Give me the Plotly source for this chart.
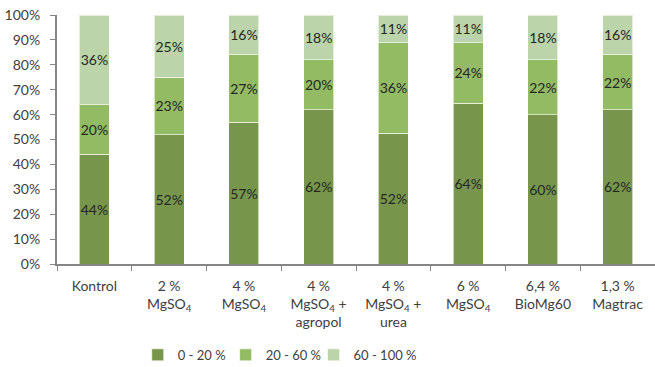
import plotly.graph_objects as go

categories = [
    "Kontrol",
    "2 %<br>MgSO<sub>4</sub>",
    "4 %<br>MgSO<sub>4</sub>",
    "4 %<br>MgSO<sub>4</sub> +<br>agropol",
    "4 %<br>MgSO<sub>4</sub> +<br>urea",
    "6 %<br>MgSO<sub>4</sub>",
    "6,4 %<br>BioMg60",
    "1,3 %<br>Magtrac",
]
share_0_20 = [44, 52, 57, 62, 52, 64, 60, 62]
share_20_60 = [20, 23, 27, 20, 36, 24, 22, 22]
share_60_100 = [36, 25, 16, 18, 11, 11, 18, 16]

series = [
    ("0 - 20 %", share_0_20, "#77964b"),
    ("20 - 60 %", share_20_60, "#93bb63"),
    ("60 - 100 %", share_60_100, "#bcd4a9"),
]

font_family = "Lato, 'Open Sans', sans-serif"

# one legend box per class, spaced evenly under the plot
legend_ids = ["legend", "legend2", "legend3"]
legend_x = [0.135, 0.282, 0.429]

fig = go.Figure()
for (name, vals, color), lid in zip(series, legend_ids):
    fig.add_trace(go.Bar(
        name=name,
        x=categories,
        y=vals,
        text=[f"{v}%" for v in vals],
        textposition="inside",
        insidetextanchor="middle",
        textangle=0,
        textfont=dict(size=14, color="#262626", family=font_family),
        marker=dict(color=color, line=dict(color="rgba(255,255,255,0.6)", width=1)),
        width=0.4,
        hoverinfo="skip",
        legend=lid,
    ))

legend_style = dict(
    orientation="h",
    xanchor="left",
    yref="container",
    y=0.033, yanchor="middle",
    font=dict(size=13, color="#404040"),
    bgcolor="rgba(0,0,0,0)",
)

fig.update_layout(
    barmode="stack",
    barnorm="percent",
    width=655,
    height=367,
    margin=dict(l=57, r=0, t=15, b=103, autoexpand=False),
    paper_bgcolor="white",
    plot_bgcolor="white",
    font=dict(family=font_family, size=14, color="#404040"),
    uniformtext=dict(minsize=14, mode="show"),
    showlegend=True,
    legend=dict(x=legend_x[0], **legend_style),
    legend2=dict(x=legend_x[1], **legend_style),
    legend3=dict(x=legend_x[2], **legend_style),
    xaxis=dict(
        showline=True, linecolor="#868686", linewidth=2,
        ticks="outside", ticklen=5, tickcolor="#868686", tickwidth=1,
        tickson="boundaries",
        showgrid=False,
        tickfont=dict(size=14, color="#404040"),
        tickangle=0,
        ticklabelstandoff=8,
        automargin=False,
    ),
    yaxis=dict(
        range=[0, 100],
        tickvals=list(range(0, 101, 10)),
        ticktext=[f"{v}%" for v in range(0, 101, 10)],
        showline=True, linecolor="#868686", linewidth=2,
        ticks="outside", ticklen=5, tickcolor="#868686", tickwidth=1,
        showgrid=False, zeroline=False,
        tickfont=dict(size=14, color="#404040"),
        ticklabelstandoff=7,
        automargin=False,
    ),
)

fig.write_html("out.html")
